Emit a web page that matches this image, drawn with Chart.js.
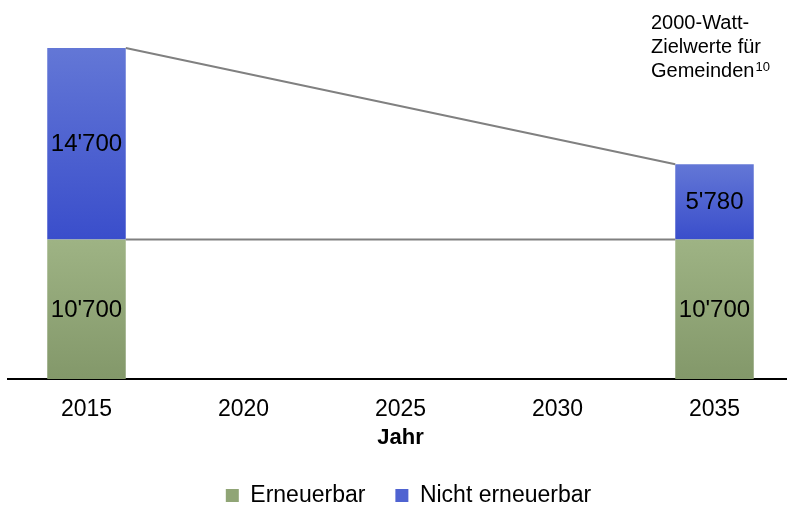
<!DOCTYPE html>
<html>
<head>
<meta charset="utf-8">
<script src="https://cdn.jsdelivr.net/npm/chart.js@4.4.1/dist/chart.umd.min.js"></script>
<style>
  html, body { margin: 0; padding: 0; background: #fff; overflow: hidden; }
  #wrap { width: 787px; height: 506px; overflow: hidden; }
</style>
</head>
<body>
<div id="wrap">
  <canvas id="energyChart" width="795" height="506" style="width:795px;height:506px"></canvas>
</div>
<script>
// Jahre (Kategorien)
const years = ['2015', '2020', '2025', '2030', '2035'];
// Werte je Serie
const erneuerbar = [10700, null, null, null, 10700];
const nichtErneuerbar = [14700, null, null, null, 5780];
const titleLines = ['2000-Watt-', 'Zielwerte für', 'Gemeinden'];
const titleSup = '10';

const greenTop = '#9eb384', greenBottom = '#83986a';
const blueTop = '#6377d6', blueBottom = '#3a4ecb';

function fmt(v) {
    return String(v).replace(/\B(?=(\d{3})+(?!\d))/g, "'");
}

function gradientFill(topColor, bottomColor, baseArr) {
    return function(context) {
        const chart = context.chart;
        const area = chart.chartArea;
        if (!area || context.type !== 'data' || context.raw == null) return bottomColor;
        const base = baseArr ? (baseArr[context.dataIndex] || 0) : 0;
        const y = chart.scales.y;
        const yTop = y.getPixelForValue(base + context.raw);
        const yBot = y.getPixelForValue(base);
        const g = chart.ctx.createLinearGradient(0, yTop, 0, yBot);
        g.addColorStop(0, topColor);
        g.addColorStop(1, bottomColor);
        return g;
    };
}

// Verbindungslinien zwischen den Balken
const connectorPlugin = {
    id: 'connectors',
    afterLayout(chart) {
        // Legende etwas nach rechts, wie im Original
        chart.legend.left += 8;
        chart.legend.right += 8;
    },
    afterDatasetsDraw(chart) {
        const ctx = chart.ctx;
        const green = chart.getDatasetMeta(0).data;
        const blue = chart.getDatasetMeta(1).data;
        const a = 0, b = years.length - 1;
        ctx.save();
        ctx.strokeStyle = '#808080';
        ctx.lineWidth = 2;
        ctx.beginPath();
        ctx.moveTo(blue[a].x + blue[a].width / 2, blue[a].y);
        ctx.lineTo(blue[b].x - blue[b].width / 2, blue[b].y);
        ctx.moveTo(green[a].x + green[a].width / 2, green[a].y);
        ctx.lineTo(green[b].x - green[b].width / 2, green[b].y);
        ctx.stroke();
        ctx.restore();
    }
};

// Werte in den Balken + Titel oben rechts
const labelPlugin = {
    id: 'barLabels',
    afterDraw(chart) {
        const ctx = chart.ctx;
        ctx.save();
        ctx.fillStyle = '#000';
        ctx.font = '24px "Liberation Sans", Arial, sans-serif';
        ctx.textAlign = 'center';
        ctx.textBaseline = 'middle';
        chart.data.datasets.forEach(function(ds, di) {
            chart.getDatasetMeta(di).data.forEach(function(el, i) {
                const v = ds.data[i];
                if (v == null) return;
                ctx.fillText(fmt(v), el.x, (el.y + el.base) / 2 + 1);
            });
        });

        ctx.font = '20px "Liberation Sans", Arial, sans-serif';
        ctx.textAlign = 'left';
        ctx.textBaseline = 'alphabetic';
        titleLines.forEach(function(t, i) {
            ctx.fillText(t, 651, 29 + i * 24);
        });
        const w = ctx.measureText(titleLines[2]).width;
        ctx.font = '13px "Liberation Sans", Arial, sans-serif';
        ctx.fillText(titleSup, 651 + w + 1, 71);
        ctx.restore();
    }
};

const chart = new Chart(document.getElementById('energyChart').getContext('2d'), {
    type: 'bar',
    data: {
        labels: years,
        datasets: [{
            label: 'Erneuerbar',
            data: erneuerbar,
            backgroundColor: gradientFill(greenTop, greenBottom, null),
            legendColor: '#90a576'
        }, {
            label: 'Nicht erneuerbar',
            data: nichtErneuerbar,
            backgroundColor: gradientFill(blueTop, blueBottom, erneuerbar),
            legendColor: '#4f63d1'
        }]
    },
    options: {
        responsive: false,
        animation: false,
        devicePixelRatio: 1,
        layout: { padding: { left: 8, right: 2, top: 1, bottom: -11 } },
        datasets: { bar: { categoryPercentage: 1, barPercentage: 0.5, borderWidth: 0 } },
        scales: {
            x: {
                stacked: true,
                afterFit(scale) { scale.height = 75; },
                grid: { display: false, drawTicks: false },
                border: { display: true, color: '#000', width: 2 },
                ticks: {
                    color: '#000',
                    padding: 17,
                    font: { family: '"Liberation Sans", Arial, sans-serif', size: 23 }
                },
                title: {
                    display: true,
                    text: 'Jahr',
                    color: '#000',
                    padding: { top: 0, bottom: 3 },
                    font: { family: '"Liberation Sans", Arial, sans-serif', size: 22, weight: 'bold' }
                }
            },
            y: {
                stacked: true,
                display: false,
                min: 0,
                max: 29000
            }
        },
        plugins: {
            tooltip: { enabled: false },
            legend: {
                position: 'bottom',
                labels: {
                    color: '#000',
                    boxWidth: 13,
                    boxHeight: 13,
                    padding: 30,
                    font: { family: '"Liberation Sans", Arial, sans-serif', size: 23 },
                    generateLabels(chart) {
                        return chart.data.datasets.map(function(ds, i) {
                            return {
                                text: ds.label,
                                fillStyle: ds.legendColor,
                                strokeStyle: ds.legendColor,
                                lineWidth: 0,
                                datasetIndex: i,
                                fontColor: '#000'
                            };
                        });
                    }
                }
            }
        }
    },
    plugins: [connectorPlugin, labelPlugin]
});
</script>
</body>
</html>
